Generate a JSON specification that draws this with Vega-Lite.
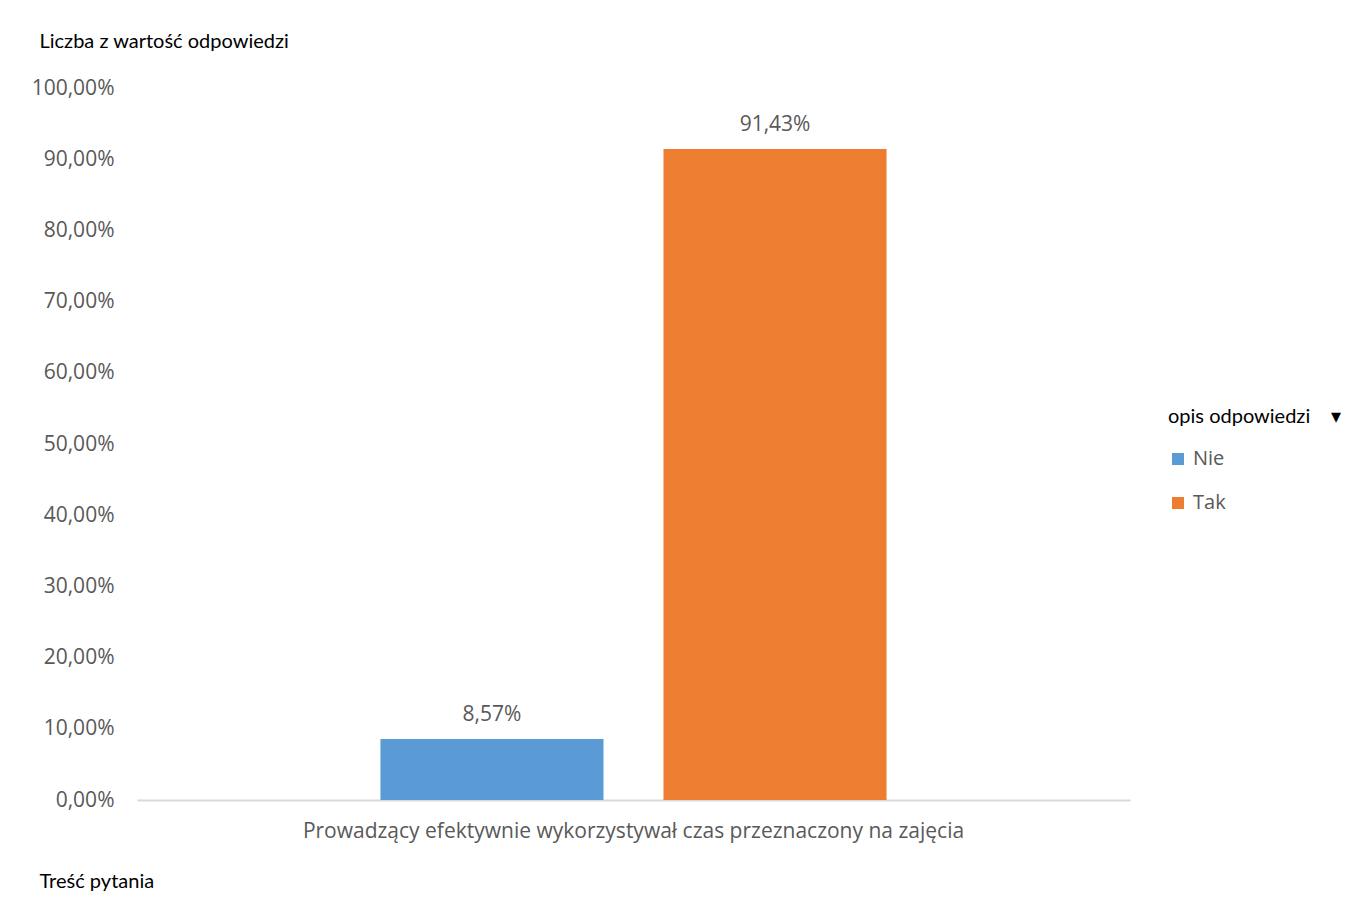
{
  "$schema": "https://vega.github.io/schema/vega-lite/v6.json",
  "width": 993,
  "height": 712,
  "autosize": {"type": "none"},
  "padding": {"left": 137, "top": 88, "right": 229, "bottom": 109},
  "background": "white",
  "config": {
    "locale": {"number": {"decimal": ",", "thousands": " ", "grouping": [3], "currency": ["", " zł"]}},
    "view": {"stroke": null},
    "font": "Open Sans"
  },
  "data": {
    "values": [
      {"question": "Prowadzący efektywnie wykorzystywał czas przeznaczony na zajęcia", "opis": "Nie", "value": 0.0857},
      {"question": "Prowadzący efektywnie wykorzystywał czas przeznaczony na zajęcia", "opis": "Tak", "value": 0.9143}
    ]
  },
  "encoding": {
    "x": {
      "field": "question",
      "type": "nominal",
      "scale": {"paddingInner": 0, "paddingOuter": 0.481},
      "axis": {
        "title": "Treść pytania",
        "titleX": -98,
        "titleY": 81,
        "titleAlign": "left",
        "titleBaseline": "middle",
        "titleFont": "Lato",
        "titleFontSize": 20,
        "titleFontWeight": "normal",
        "titleColor": "#000000",
        "labelAngle": 0,
        "labelColor": "#595959",
        "labelFontSize": 21,
        "labelPadding": 20,
        "labelLimit": 0,
        "ticks": false,
        "domainColor": "#d9d9d9",
        "domainWidth": 2
      }
    },
    "xOffset": {
      "field": "opis",
      "type": "nominal",
      "scale": {"paddingInner": 0.212, "paddingOuter": 0}
    },
    "y": {
      "field": "value",
      "type": "quantitative",
      "scale": {"domain": [0, 1]},
      "axis": {
        "values": [0, 0.1, 0.2, 0.3, 0.4, 0.5, 0.6, 0.7, 0.8, 0.9, 1],
        "format": ".2%",
        "title": "Liczba z wartość odpowiedzi",
        "titleAngle": 0,
        "titleX": -98,
        "titleY": -47,
        "titleAlign": "left",
        "titleBaseline": "middle",
        "titleFont": "Lato",
        "titleFontSize": 20,
        "titleFontWeight": "normal",
        "titleColor": "#000000",
        "labelColor": "#595959",
        "labelFontSize": 21,
        "labelPadding": 23,
        "domain": false,
        "ticks": false,
        "grid": false
      }
    }
  },
  "layer": [
    {
      "mark": {"type": "bar"},
      "encoding": {
        "color": {
          "field": "opis",
          "type": "nominal",
          "scale": {"domain": ["Nie", "Tak"], "range": ["#5B9BD5", "#ED7D31"]},
          "legend": {
            "title": "opis odpowiedzi\u00a0\u00a0\u00a0\u00a0▾",
            "orient": "none",
            "legendX": 1031,
            "legendY": 319,
            "titleFont": "Lato",
            "titleFontSize": 20,
            "titleFontWeight": "normal",
            "titleColor": "#000000",
            "titleLimit": 0,
            "titlePadding": 22,
            "symbolType": "square",
            "symbolSize": 144,
            "symbolStrokeWidth": 0,
            "labelFontSize": 20,
            "labelColor": "#595959",
            "labelOffset": 5,
            "rowPadding": 24
          }
        }
      }
    },
    {
      "mark": {"type": "text", "baseline": "middle", "dy": -24, "fontSize": 21, "color": "#595959"},
      "encoding": {
        "text": {"field": "value", "type": "quantitative", "format": ".2%"}
      }
    }
  ]
}
